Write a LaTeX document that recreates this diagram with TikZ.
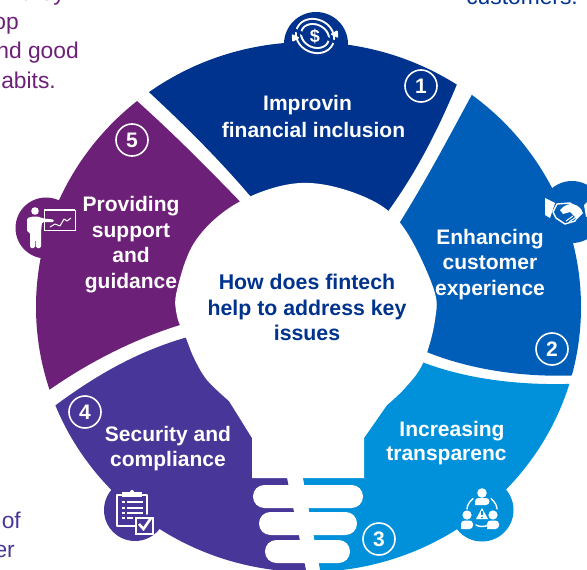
\documentclass[tikz,border=0pt]{standalone}
\usepackage{fontspec}
\setmainfont{Liberation Sans}
\definecolor{kone}{HTML}{00338D}
\definecolor{ktwo}{HTML}{005EB8}
\definecolor{kthree}{HTML}{0091DA}
\definecolor{kfour}{HTML}{483698}
\definecolor{kfive}{HTML}{6D2077}
\tikzset{
  seglabel/.style={text=white,font=\bfseries\fontsize{21}{25.5}\selectfont,align=center,inner sep=0pt},
  numring/.style={circle,draw=white,line width=1.6pt,minimum size=32pt,inner sep=0pt,text=white,font=\bfseries\fontsize{21}{25}\selectfont},
  sidetext/.style={font=\fontsize{22.8}{25}\selectfont,inner sep=0pt,anchor=base east},
  iconline/.style={draw=white,line width=1.4pt,line cap=round,line join=round},
  iconfill/.style={fill=white,draw=none}
}
\begin{document}
\begin{tikzpicture}[x=1pt,y=-1pt]
\useasboundingbox (0,0) rectangle (587,570);
\clip (0,0) rectangle (587,570);
% side texts
\node[sidetext,text=kfive] (ta) at (65,1) {they};
\node[sidetext,text=kfive] (tb) at (19,30) {op};
\node[sidetext,text=kfive] (tc) at (79,58) {nd good};
\node[sidetext,text=kfive] (td) at (56,88) {abits.};
\node[sidetext,text=kone] (te) at (578,5) {customers.};
\node[sidetext,text=kfour] (tf) at (21,528) {of};
\node[sidetext,text=kfour] (tg) at (15,557) {er};
% icon discs
\fill[kone] (316,44) circle[radius=32pt];
\fill[ktwo] (572,212) circle[radius=31pt];
\fill[kthree] (482,510) circle[radius=31.5pt];
\fill[kfour] (135,510) circle[radius=31pt];
\fill[kfive] (46,228) circle[radius=30.5pt];
% segments
\begin{scope}
\clip (308.5,307) ellipse[x radius=272.5pt,y radius=265pt];
\fill[kone] (262,210) .. controls (225,165) and (185,125) .. (138,82) -- (138,0) -- (470,0) -- (466,62) .. controls (445,115) and (420,170) .. (380,222) -- (320,300) -- cycle;
\fill[ktwo] (480,80) .. controls (455,125) and (430,175) .. (392,235) -- (340,300) -- (415,347) .. controls (465,370) and (530,380) .. (595,374) -- (600,80) -- cycle;
\fill[kthree] (410,357) .. controls (450,375) and (510,388) .. (590,383) -- (590,575) -- (321,575) -- (303,478) -- (303,440) -- cycle;
\fill[kfour] (30,425) .. controls (80,385) and (130,352) .. (195,335) -- (287,440) -- (287,478) -- (307,575) -- (30,575) -- cycle;
\fill[kfive] (320,300) -- (250,212) .. controls (205,165) and (165,125) .. (120,86) -- (0,86) -- (0,425) -- (25,408) .. controls (60,380) and (115,345) .. (180,325) -- cycle;
\end{scope}
% white bulb
\fill[white] (252,478) -- (252,438) -- (229,401) -- plot[smooth,tension=0.6] coordinates {(229,401) (207,380) (194,358) (186,338) (177,316) (177,290) (196,240) (239,202) (300,183) (360,195) (401,224) (433,287) (435,320) (423,363) (405,388) (387,405)} -- (364,438) -- (364,478) -- cycle;
\fill[white,rounded corners=11.4pt] (253,485) rectangle (363,508);
\fill[white,rounded corners=11.4pt] (259,512) rectangle (357,535);
\fill[white,rounded corners=11.4pt] (265,540) rectangle (350,563);
% labels
\node[seglabel] (l1a) at (307.5,105) {Improvin};
\node[seglabel] (l1b) at (313.5,129.5) {financial inclusion};
\node[seglabel] (l2) at (490,264.5) {Enhancing\\customer\\experience};
\node[seglabel] (l3a) at (452,431) {Increasing};
\node[seglabel] (l3b) at (446.5,456) {transparenc};
\node[seglabel] (l4) at (168,448.5) {Security and\\compliance};
\node[seglabel] (l5) at (131,244.5) {Providing\\support\\and\\guidance};
\node[seglabel,text=kone,font=\bfseries\fontsize{21.3}{25.5}\selectfont] (lc) at (307,307.5) {How does fintech\\help to address key\\issues};
% number rings
\node[numring] (n1) at (421,86) {1};
\node[numring] (n2) at (552,349) {2};
\node[numring] (n3) at (379,539) {3};
\node[numring] (n4) at (85,412) {4};
\node[numring] (n5) at (132,140) {5};
% icon 1: money cycle
\begin{scope}[shift={(315,36)},rotate=-25]
\draw[white,line width=7pt] (0,0) ellipse[x radius=17pt,y radius=14pt];
\draw[kone,line width=3pt] (0,0) ellipse[x radius=17pt,y radius=14pt];
\draw[kone,line width=3pt] (11,-3) -- (25,-3);
\draw[kone,line width=3pt] (-11,3) -- (-25,3);
\fill[white,rounded corners=1pt] (13,-8) -- (22,-8) -- (18,-15) -- cycle;
\fill[white,rounded corners=1pt] (-13,8) -- (-22,8) -- (-18,15) -- cycle;
\end{scope}
\node[text=white,font=\bfseries\fontsize{18}{18}\selectfont,inner sep=0pt] (dollar) at (315,36) {\$};
% icon 2: handshake
\fill[white] (545,198) -- (555,203) -- (550,218) -- (545,215) -- cycle;
\fill[white] (590,199) -- (584,205) -- (586,217) -- (590,215) -- cycle;
\draw[iconline] (557,204) -- (570,203) -- (581,210) -- (575,221) -- (565,224) -- (556,218) -- (553,212) -- cycle;
\fill[white] (560,210) .. controls (566,203) and (574,202) .. (580,208) -- (583,213) -- (577,219) -- (570,212) -- (563,214) -- cycle;
\draw[white,line width=1pt] (566,221) -- (573,216) (569,222) -- (576,217);
% icon 3: people and warning
\fill[white] (482,493) circle[radius=4.8pt];
\fill[white,rounded corners=3.5pt] (475,505) -- (475,498) -- (489.5,498) -- (489.5,505) [sharp corners] -- cycle;
\fill[white] (467,515) circle[radius=4.6pt];
\fill[white,rounded corners=3.5pt] (461,529) -- (461,520.5) -- (473,520.5) -- (473,529) [sharp corners] -- cycle;
\fill[white] (493,515) circle[radius=4.6pt];
\fill[white,rounded corners=3.5pt] (487,529) -- (487,520.5) -- (499,520.5) -- (499,529) [sharp corners] -- cycle;
\fill[white] (482,508) -- (488,519) -- (476,519) -- cycle;
\draw[kthree,line width=1.2pt] (482,511) -- (482,515) (482,516.5) -- (482,518);
\draw[iconline] (473,498.5) .. controls (469,502) and (467,506) .. (467,509);
\draw[iconline] (491,498.5) .. controls (495,502) and (497,506) .. (497,509);
\draw[iconline] (476,525) .. controls (479,527) and (485,527) .. (488,525);
% icon 4: clipboard
\draw[iconline,line width=1.5pt] (122,495) -- (117,495) -- (117,526) -- (135,526);
\draw[iconline,line width=1.5pt] (142,495) -- (147,495) -- (147,514);
\fill[white] (122,492) rectangle (142,497);
\fill[white] (132,492) circle[radius=2pt];
\foreach \yy/\xe in {502/143,508/143,513/143,518/133}{
  \fill[white] (122,\yy-1) rectangle (125,\yy+1);
  \fill[white] (127,\yy-1) rectangle (\xe,\yy+1);
}
\draw[white,fill=kfour,line width=1.5pt] (136,518) rectangle (153,534);
\draw[white,line width=2.6pt] (139,524) -- (143.5,529) -- (151,518);
% icon 5: presenter
\fill[white] (35,211) circle[radius=3.8pt];
\fill[white,rounded corners=1.5pt] (27,218) -- (33,216.5) -- (38,216.5) -- (43,218.5) -- (54,219.5) -- (54,222) -- (42,222) -- (41,232) -- (41,248) -- (36,248) -- (35.5,234) -- (35,248) -- (30,248) -- (30,232) -- (27,232) -- cycle;
\fill[white] (44,209) rectangle (75,211);
\draw[white,line width=0.9pt] (44,210) -- (44,230) -- (75,230) -- (75,210);
\draw[white,line width=1pt,line join=round] (50,227) -- (55,224) -- (60,226) -- (64,219) -- (67,221) -- (71,218);
\end{tikzpicture}
\end{document}
